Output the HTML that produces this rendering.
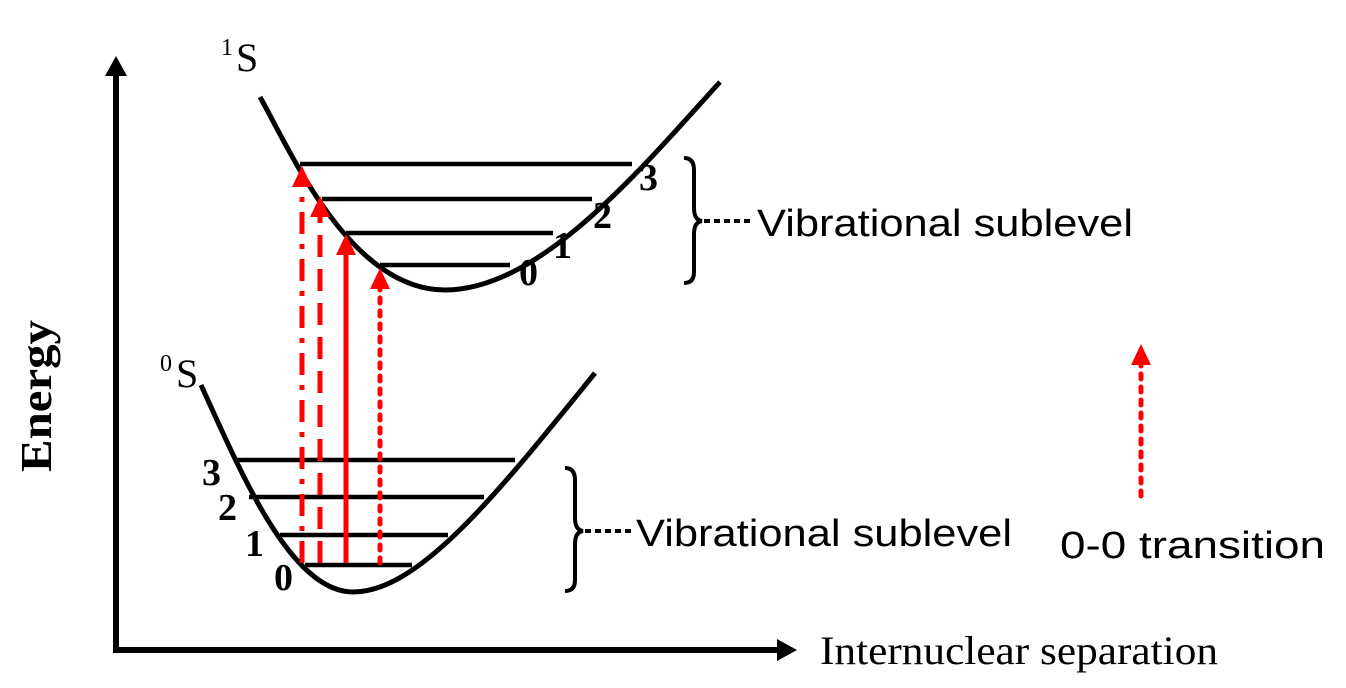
<!DOCTYPE html>
<html><head><style>body{margin:0;background:#fff}svg{display:block}</style></head>
<body>
<svg width="1346" height="688" viewBox="0 0 1346 688" xmlns="http://www.w3.org/2000/svg">
<!-- axes -->
<line x1="116" y1="74" x2="116" y2="652" stroke="#000" stroke-width="6"/>
<polygon points="116,56 105,76 127,76" fill="#000"/>
<line x1="113" y1="650" x2="780" y2="650" stroke="#000" stroke-width="6"/>
<polygon points="797,650 777,639 777,661" fill="#000"/>
<!-- curves -->
<path d="M260,97 C290,150 350,290 445,290 C540,290 640,170 720,82" fill="none" stroke="#000" stroke-width="5"/>
<path d="M201,385 C240,470 290,592 353,592 C420,592 500,490 595,373" fill="none" stroke="#000" stroke-width="5"/>
<g stroke="#000" stroke-width="4.5">
<line x1="300" y1="164" x2="632" y2="164"/>
<line x1="322" y1="199" x2="592" y2="199"/>
<line x1="346" y1="233" x2="553" y2="233"/>
<line x1="380" y1="265" x2="510" y2="265"/>
<line x1="236" y1="460" x2="515" y2="460"/>
<line x1="249" y1="497" x2="484" y2="497"/>
<line x1="280" y1="535" x2="448" y2="535"/>
<line x1="305" y1="565" x2="412" y2="565"/>
</g>
<!-- red arrows -->
<g stroke="#f00" stroke-width="5" fill="none">
<line x1="302" y1="563" x2="302" y2="186" stroke-dasharray="22,10,5,10"/>
<line x1="320" y1="563" x2="320" y2="216" stroke-dasharray="22,12"/>
<line x1="346" y1="563" x2="346" y2="252"/>
<line x1="380" y1="563" x2="380" y2="288" stroke-dasharray="5,8" stroke-linecap="round"/>
<line x1="1141" y1="496" x2="1141" y2="364" stroke-dasharray="5,8" stroke-linecap="round"/>
</g>
<g fill="#f00">
<polygon points="302,166 292,187 312,187"/>
<polygon points="320,196 310,217 330,217"/>
<polygon points="346,234 336,255 356,255"/>
<polygon points="380,268 370,289 390,289"/>
<polygon points="1141,344 1131,365 1151,365"/>
</g>
<!-- braces -->
<path d="M684,158 Q694,158 694,170 L694,208 Q694,220 702,221 Q694,222 694,234 L694,272 Q694,283 684,283" fill="none" stroke="#000" stroke-width="4"/>
<line x1="704" y1="221" x2="754" y2="221" stroke="#000" stroke-width="4" stroke-dasharray="6,4"/>
<path d="M565,468 Q575,468 575,480 L575,518 Q575,530 583,531 Q575,532 575,544 L575,580 Q575,591 565,591" fill="none" stroke="#000" stroke-width="4"/>
<line x1="585" y1="531" x2="632" y2="531" stroke="#000" stroke-width="4" stroke-dasharray="6,4"/>
<!-- text -->
<g font-family="Liberation Sans, sans-serif" font-size="38" fill="#000">
<text x="757" y="236" textLength="376" lengthAdjust="spacingAndGlyphs">Vibrational sublevel</text>
<text x="636" y="546" textLength="376" lengthAdjust="spacingAndGlyphs">Vibrational sublevel</text>
<text x="1060" y="558" textLength="265" lengthAdjust="spacingAndGlyphs">0-0 transition</text>
</g>
<g font-family="Liberation Serif, serif" fill="#000">
<text x="820" y="664" font-size="40" textLength="398" lengthAdjust="spacingAndGlyphs">Internuclear separation</text>
<text x="236" y="71" font-size="40">S</text>
<text x="221" y="55" font-size="24">1</text>
<text x="176" y="387" font-size="40">S</text>
<text x="160" y="371" font-size="24">0</text>
<text transform="translate(51,472) rotate(-90)" font-size="44" font-weight="bold" textLength="152" lengthAdjust="spacingAndGlyphs">Energy</text>
</g>
<g font-family="Liberation Serif, serif" font-size="38" font-weight="bold" fill="#000">
<text x="639" y="190">3</text>
<text x="593" y="228">2</text>
<text x="553" y="258">1</text>
<text x="519" y="285">0</text>
<text x="202" y="485">3</text>
<text x="218" y="520">2</text>
<text x="245" y="556">1</text>
<text x="274" y="590">0</text>
</g>
</svg>
</body></html>
